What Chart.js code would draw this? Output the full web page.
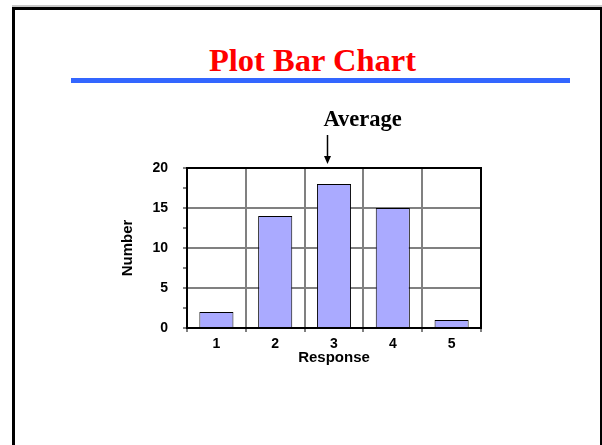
<!DOCTYPE html>
<html>
<head>
<meta charset="utf-8">
<script src="https://cdn.jsdelivr.net/npm/chart.js@4/dist/chart.umd.min.js"></script>
<style>
  html, body { margin: 0; padding: 0; background: #fff; }
  #slide {
    position: absolute; left: 12px; top: 7px; width: 590px; height: 500px;
    box-sizing: border-box; border: 3px solid #000; border-right-width: 2px;
  }
  #topShade { position: absolute; left: 12px; top: 5px; width: 590px; height: 2px; background: #c8c8c8; }
  #title {
    position: absolute; left: 0; top: 44px; width: 625px; text-align: center;
    font: bold 32.5px/32px "Liberation Serif", "Times New Roman", serif; color: #ff0000;
  }
  #rule { position: absolute; left: 71px; top: 78px; width: 499px; height: 5px; background: #3366ff; }
  #barChart { position: absolute; left: 0; top: 0; }
</style>
</head>
<body>
<div id="topShade"></div>
<div id="slide"></div>
<div id="title">Plot Bar Chart</div>
<div id="rule"></div>
<canvas id="barChart" width="602" height="445"></canvas>
<script>
const responses = ["1", "2", "3", "4", "5"];
const counts = [2, 14, 18, 15, 1];
const averageMark = 2.9; // where the arrow points

const barColor = "#aaaaff";
const gridColor = "#808080";
const axisFont = { family: "Liberation Sans", size: 14, weight: "bold" };
const titleFont = { family: "Liberation Sans", size: 15, weight: "bold" };

// black frame round the plot + the "Average" arrow
const extras = {
  id: "extras",
  afterDraw(chart) {
    const { ctx, chartArea } = chart;
    ctx.save();
    ctx.strokeStyle = "#000";
    ctx.lineWidth = 2;
    ctx.strokeRect(chartArea.left, chartArea.top, chartArea.right - chartArea.left, chartArea.bottom - chartArea.top);

    const x = Math.round(chart.scales.x.getPixelForValue(averageMark - 1)) - 0.5;
    const tip = chartArea.top - 4;
    ctx.lineWidth = 1.5;
    ctx.beginPath();
    ctx.moveTo(x, chartArea.top - 33);
    ctx.lineTo(x, tip - 6);
    ctx.stroke();
    ctx.fillStyle = "#000";
    ctx.beginPath();
    ctx.moveTo(x - 3.5, tip - 8);
    ctx.lineTo(x + 3.5, tip - 8);
    ctx.lineTo(x, tip);
    ctx.closePath();
    ctx.fill();

    ctx.font = "bold 22.5px 'Liberation Serif'";
    ctx.textAlign = "left";
    ctx.textBaseline = "alphabetic";
    ctx.fillText("Average", x - 4, chartArea.top - 42);
    ctx.restore();
  },
};

new Chart(document.getElementById("barChart"), {
  type: "bar",
  data: {
    labels: responses,
    datasets: [
      {
        label: "Number",
        data: counts,
        backgroundColor: barColor,
        borderColor: "#000",
        borderWidth: 1,
        barPercentage: 0.58,
        categoryPercentage: 1,
      },
    ],
  },
  options: {
    responsive: false,
    animation: false,
    layout: { padding: { left: 119, top: 168, right: 121, bottom: 78 } },
    plugins: {
      legend: { display: false },
      title: { display: false },
      tooltip: { enabled: false },
    },
    scales: {
      x: {
        afterFit: (s) => { s.height = 39; },
        grid: { offset: true, color: gridColor, lineWidth: 2, tickLength: 4 },
        border: { color: "#000", width: 2 },
        ticks: { color: "#000", font: axisFont, padding: 3.6 },
        title: { display: true, text: "Response", color: "#000", font: titleFont, padding: 0 },
      },
      y: {
        min: 0,
        max: 20,
        afterFit: (s) => { s.width = 68; },
        grid: {
          color: (c) => (c.tick && c.tick.value % 5 === 0 ? gridColor : "rgba(0,0,0,0)"),
          tickColor: gridColor,
          lineWidth: 2,
          tickLength: 4,
        },
        border: { color: "#000", width: 2 },
        ticks: {
          stepSize: 2.5,
          color: "#000",
          font: axisFont,
          padding: 15,
          callback: (v) => (v % 5 === 0 ? v : ""),
        },
        title: { display: true, text: "Number", color: "#000", font: titleFont, padding: 0 },
      },
    },
  },
  plugins: [extras],
});
</script>
</body>
</html>
